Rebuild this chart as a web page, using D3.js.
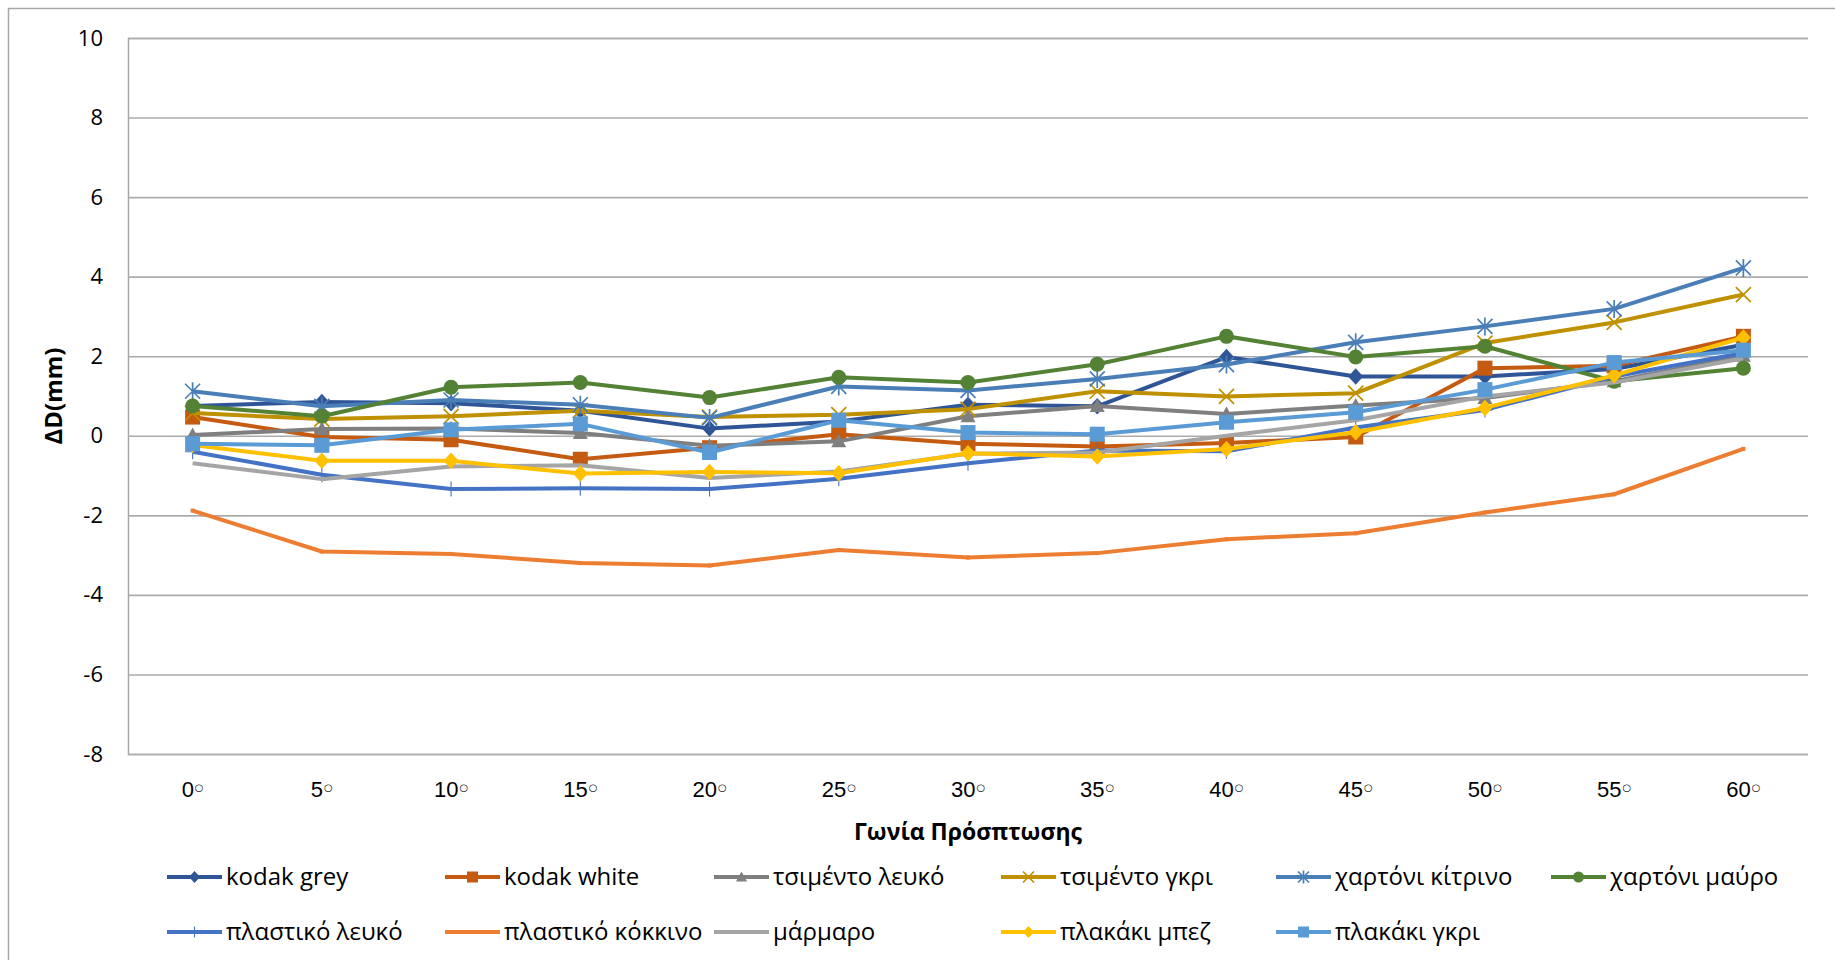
<!DOCTYPE html>
<html>
<head>
<meta charset="utf-8">
<script src="https://cdn.jsdelivr.net/npm/d3@7"></script>
<style>
  html, body { margin: 0; padding: 0; background: #fff; }
  svg { display: block; font-family: "Open Sans", "DejaVu Sans", sans-serif; }
</style>
</head>
<body>
<svg id="chart" width="1835" height="960"></svg>
<script>
// Incidence angles (categories)
const angles = [0, 5, 10, 15, 20, 25, 30, 35, 40, 45, 50, 55, 60];
const yTicks = [-8, -6, -4, -2, 0, 2, 4, 6, 8, 10];

// ΔD (mm) per material
const kodakGrey      = [0.75, 0.85, 0.82, 0.63, 0.18, 0.36, 0.78, 0.74, 1.98, 1.49, 1.49, 1.68, 2.29];
const kodakWhite     = [0.47, -0.03, -0.10, -0.59, -0.30, 0.04, -0.20, -0.27, -0.18, -0.03, 1.70, 1.76, 2.50];
const cementWhite    = [0.02, 0.17, 0.18, 0.07, -0.25, -0.14, 0.49, 0.75, 0.55, 0.76, 0.95, 1.37, 2.01];
const cementGrey     = [0.57, 0.42, 0.49, 0.63, 0.47, 0.53, 0.67, 1.12, 0.99, 1.07, 2.33, 2.85, 3.55];
const cardYellow     = [1.12, 0.74, 0.90, 0.78, 0.45, 1.24, 1.14, 1.43, 1.79, 2.35, 2.75, 3.19, 4.22];
const cardBlack      = [0.75, 0.49, 1.22, 1.34, 0.96, 1.47, 1.34, 1.80, 2.50, 1.98, 2.25, 1.37, 1.70];
const plasticWhite   = [-0.40, -0.98, -1.34, -1.32, -1.34, -1.08, -0.69, -0.37, -0.39, 0.21, 0.65, 1.49, 2.08];
const plasticRed     = [-1.88, -2.91, -2.97, -3.20, -3.26, -2.87, -3.06, -2.95, -2.60, -2.45, -1.93, -1.47, -0.33];
const marble         = [-0.69, -1.09, -0.77, -0.74, -1.06, -0.90, -0.45, -0.42, 0.00, 0.39, 0.99, 1.34, 1.95];
const tileBeige      = [-0.23, -0.63, -0.63, -0.95, -0.91, -0.94, -0.44, -0.52, -0.33, 0.09, 0.70, 1.52, 2.47];
const tileGrey       = [-0.20, -0.24, 0.15, 0.30, -0.42, 0.39, 0.08, 0.04, 0.34, 0.59, 1.16, 1.84, 2.15];

const seriesNames  = ["kodak grey", "kodak white", "τσιμέντο λευκό", "τσιμέντο γκρι", "χαρτόνι κίτρινο", "χαρτόνι μαύρο",
                      "πλαστικό λευκό", "πλαστικό κόκκινο", "μάρμαρο", "πλακάκι μπεζ", "πλακάκι γκρι"];
const seriesValues = [kodakGrey, kodakWhite, cementWhite, cementGrey, cardYellow, cardBlack,
                      plasticWhite, plasticRed, marble, tileBeige, tileGrey];
const seriesColors = ["#2F5597", "#C55A11", "#7F7F7F", "#BF9000", "#4A7EB7", "#548235",
                      "#4472C4", "#ED7D31", "#A5A5A5", "#FFC000", "#5B9BD5"];
const seriesMarkers = ["diamond", "square", "triangle", "x", "star", "circle",
                       "plus", "dash", "none", "diamond", "square"];

const series = seriesNames.map((name, i) => ({
  name, color: seriesColors[i], marker: seriesMarkers[i],
  points: angles.map((a, j) => ({ angle: a, value: seriesValues[i][j] }))
}));

const svg = d3.select("#chart");
const plot = { left: 128, right: 1808, top: 38, bottom: 754 };

// chart area outline
svg.append("rect")
  .attr("x", 8.5).attr("y", 8.5)
  .attr("width", 1900).attr("height", 1000)
  .attr("fill", "none").attr("stroke", "#A6A6A6").attr("stroke-width", 1.5);

const x = d3.scaleBand().domain(angles).range([plot.left, plot.right]);
const y = d3.scaleLinear().domain([-8, 10]).range([plot.bottom, plot.top]);
const cx = a => x(a) + x.bandwidth() / 2;

// horizontal gridlines + value labels
const yAxis = svg.append("g")
  .attr("transform", `translate(${plot.left},0)`)
  .call(d3.axisLeft(y).tickValues(yTicks).tickSize(-(plot.right - plot.left)).tickPadding(25).tickFormat(d => String(d)));
yAxis.select(".domain").attr("stroke", "#A6A6A6").attr("stroke-width", 1.5);
yAxis.selectAll(".tick line").attr("stroke", "#ABABAB").attr("stroke-width", 1.6);
yAxis.selectAll(".tick text")
  .attr("font-size", 22).attr("fill", "#000")
  .attr("font-family", "'Open Sans', sans-serif");

// category labels
const xAxis = svg.append("g")
  .attr("transform", `translate(0,${plot.bottom})`)
  .call(d3.axisBottom(x).tickSize(0).tickPadding(27).tickFormat(() => ""));
xAxis.select(".domain").remove();
xAxis.selectAll(".tick text").each(function (d) {
  const t = d3.select(this).attr("font-size", 22).attr("fill", "#000");
  t.append("tspan").text(d);
  t.append("tspan").attr("font-size", 10).attr("dx", 1).attr("dy", "-0.55em").attr("font-family", "'DejaVu Sans', sans-serif").text("○");
});

// axis titles
svg.append("text")
  .attr("x", (plot.left + plot.right) / 2).attr("y", 840)
  .attr("text-anchor", "middle").attr("font-size", 23).attr("font-weight", "bold").attr("fill", "#000")
  .text("Γωνία Πρόσπτωσης");
svg.append("text")
  .attr("transform", `translate(62,${(plot.top + plot.bottom) / 2}) rotate(-90)`)
  .attr("text-anchor", "middle").attr("font-size", 24).attr("font-weight", "bold").attr("fill", "#000")
  .text("ΔD(mm)");

// marker drawing
function drawMarker(g, type, color, s) {
  const h = s / 2;
  switch (type) {
    case "diamond":
      g.append("path").attr("d", `M0,${-h * 1.1}L${h},0L0,${h * 1.1}L${-h},0Z`).attr("fill", color);
      break;
    case "square":
      g.append("rect").attr("x", -h).attr("y", -h).attr("width", s).attr("height", s).attr("fill", color);
      break;
    case "triangle":
      g.append("path").attr("d", `M0,${-h}L${h},${h * 0.8}L${-h},${h * 0.8}Z`).attr("fill", color);
      break;
    case "circle":
      g.append("circle").attr("r", h).attr("fill", color);
      break;
    case "x":
      g.append("path").attr("d", `M${-h},${-h}L${h},${h}M${-h},${h}L${h},${-h}`)
        .attr("stroke", color).attr("stroke-width", 1.7).attr("fill", "none");
      break;
    case "star":
      g.append("path").attr("d", `M${-h},${-h}L${h},${h}M${-h},${h}L${h},${-h}M0,${-h * 1.2}L0,${h * 1.2}`)
        .attr("stroke", color).attr("stroke-width", 1.7).attr("fill", "none");
      break;
    case "plus":
      g.append("path").attr("d", `M${-h},0L${h},0M0,${-h}L0,${h}`)
        .attr("stroke", color).attr("stroke-width", 1.1).attr("fill", "none");
      break;
    case "dash":
      g.append("path").attr("d", `M${-h * 0.5},0L${h * 0.5},0`)
        .attr("stroke", color).attr("stroke-width", 4).attr("fill", "none");
      break;
  }
}

const markerSize = { diamond: 15, square: 15, triangle: 15, circle: 15, x: 15, star: 15, plus: 15, dash: 8, none: 0 };

const line = d3.line().x(d => cx(d.angle)).y(d => y(d.value));

series.forEach(s => {
  const g = svg.append("g");
  g.append("path").datum(s.points)
    .attr("d", line).attr("fill", "none")
    .attr("stroke", s.color).attr("stroke-width", 4)
    .attr("stroke-linejoin", "round");
  s.points.forEach(p => {
    const m = g.append("g").attr("transform", `translate(${cx(p.angle)},${y(p.value)})`);
    drawMarker(m, s.marker, s.color, markerSize[s.marker]);
  });
});

// legend
const legendCols = [167, 445, 714, 1001, 1276, 1551];
const legendRows = [877, 932];
series.forEach((s, i) => {
  const row = i < 6 ? 0 : 1;
  const col = i < 6 ? i : i - 6;
  const lg = svg.append("g").attr("transform", `translate(${legendCols[col]},${legendRows[row]})`);
  lg.append("line").attr("x1", 0).attr("x2", 55).attr("y1", 0).attr("y2", 0)
    .attr("stroke", s.color).attr("stroke-width", 4);
  const m = lg.append("g").attr("transform", "translate(27.5,0)");
  drawMarker(m, s.marker, s.color, Math.max(0, markerSize[s.marker] - 4));
  lg.append("text").attr("x", 59).attr("y", 0).attr("dy", "0.35em")
    .attr("font-size", 24).attr("fill", "#000").text(s.name);
});
</script>
</body>
</html>
